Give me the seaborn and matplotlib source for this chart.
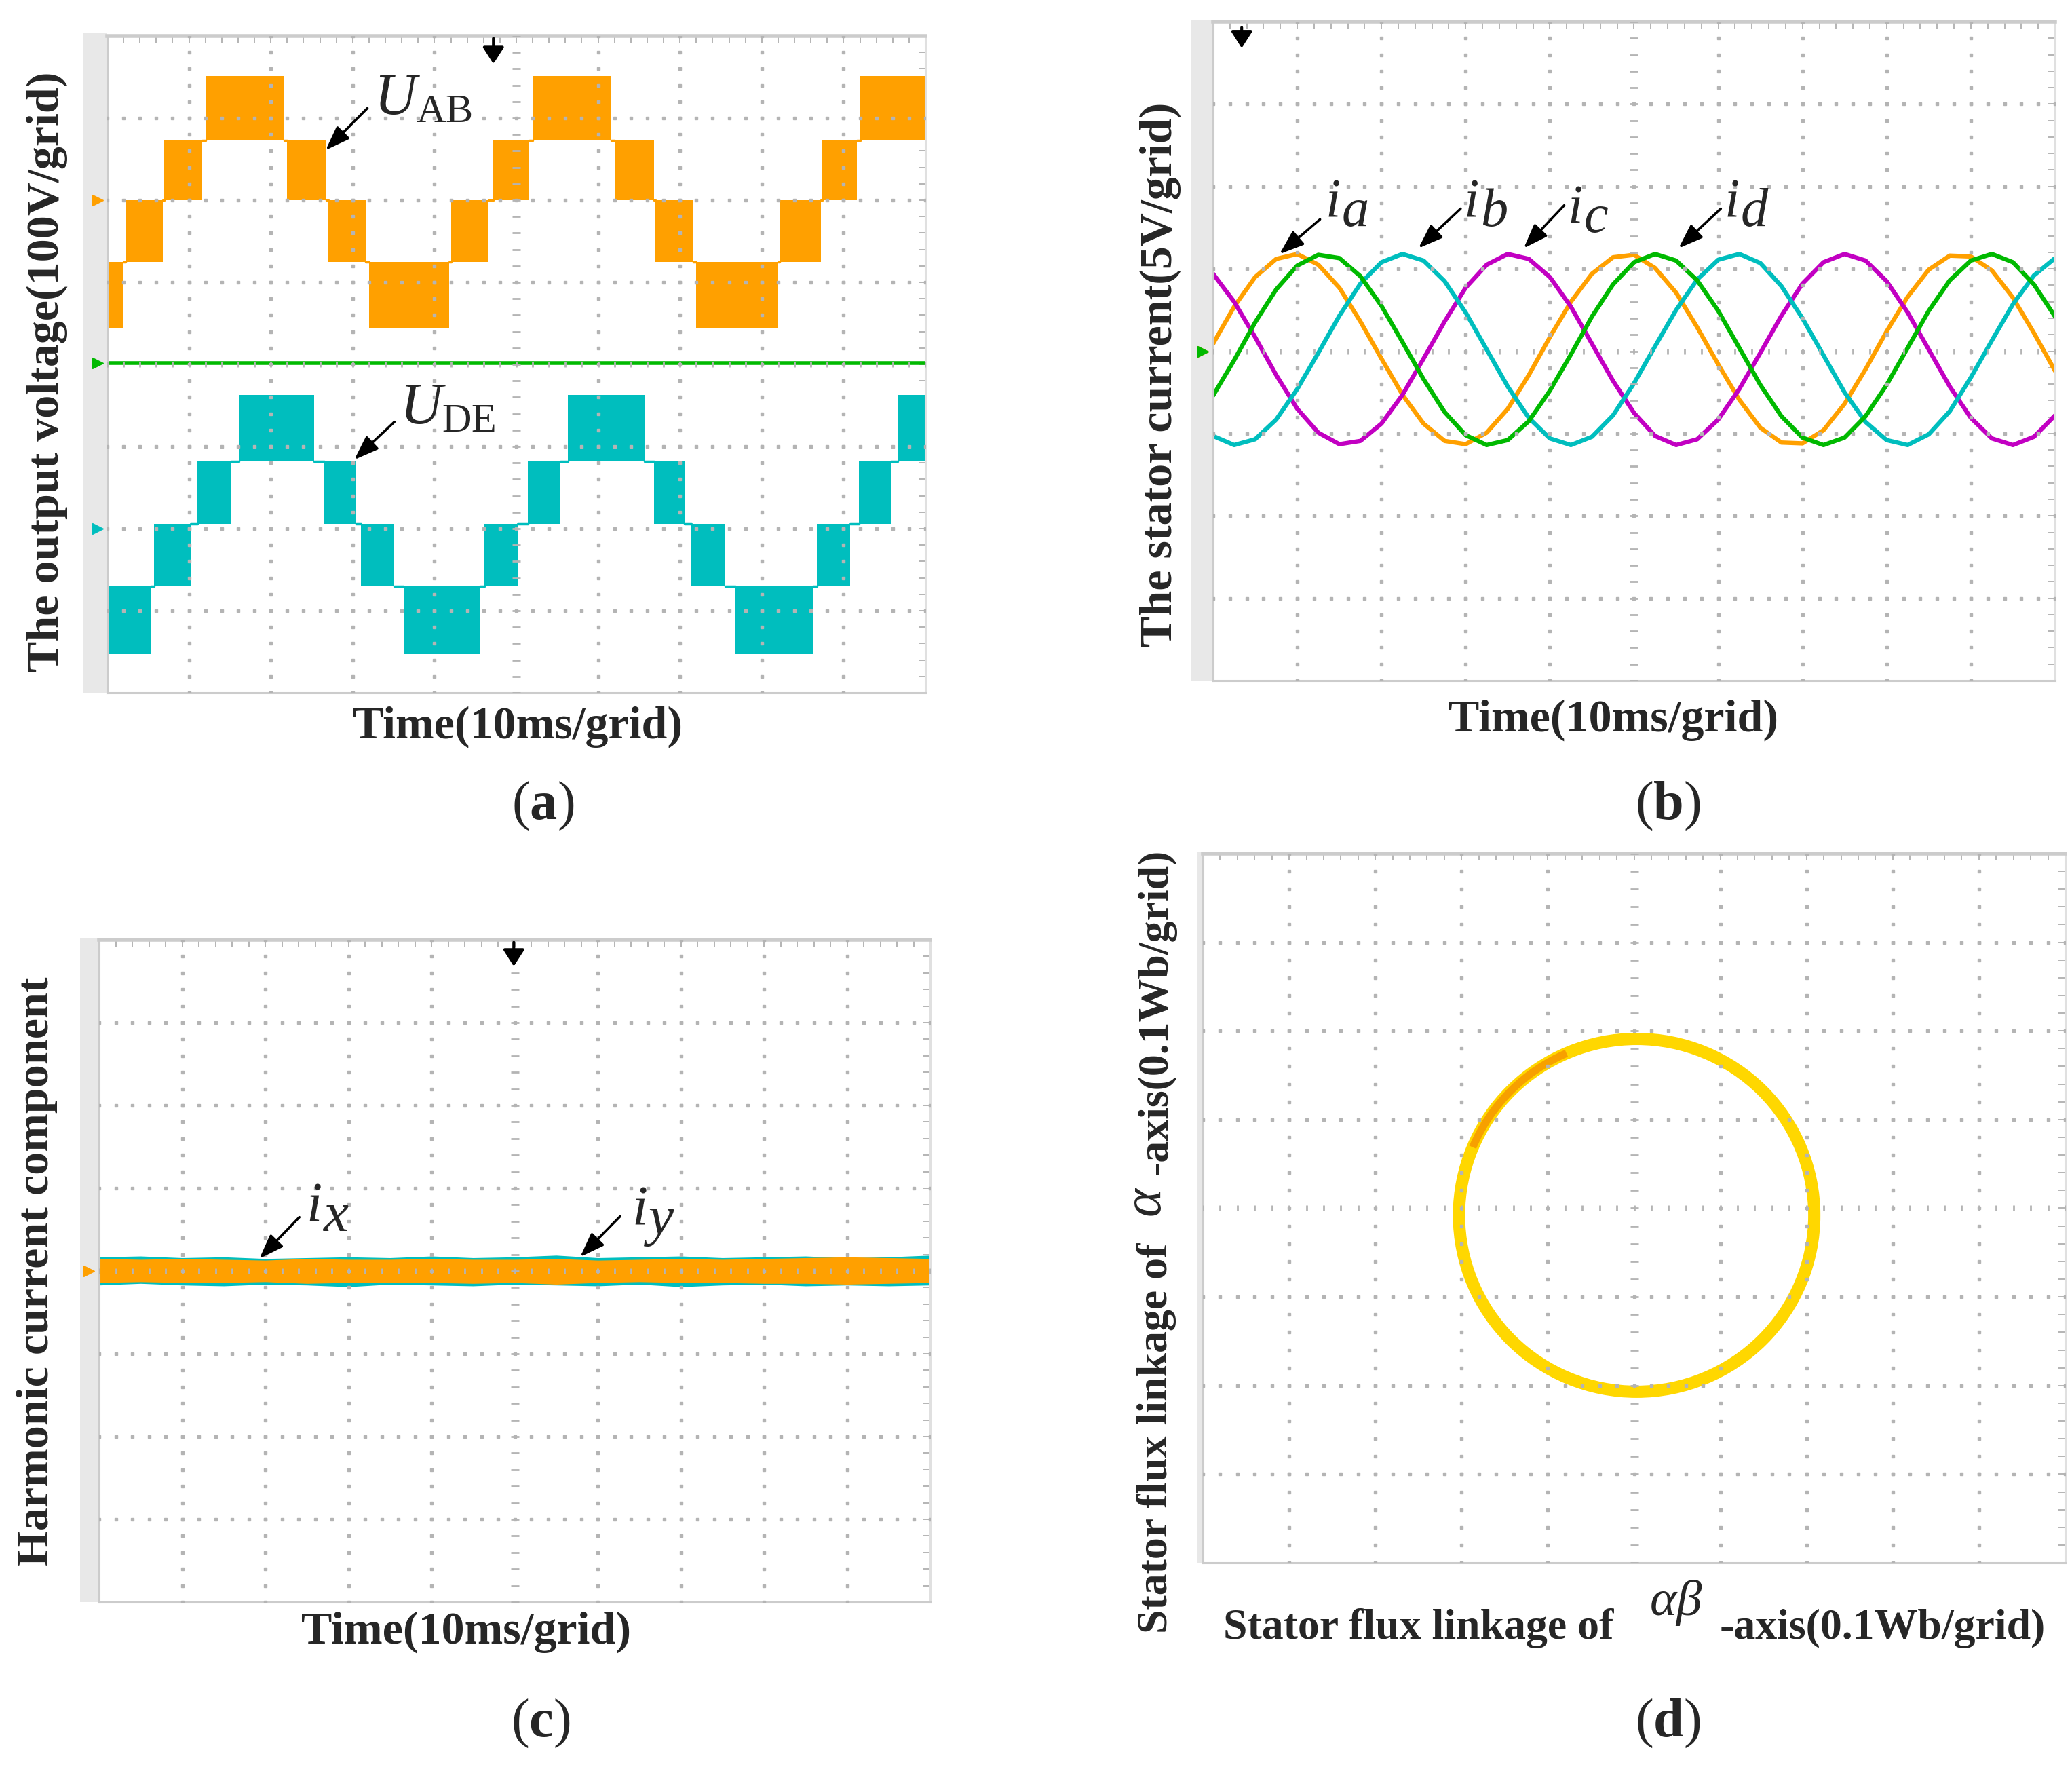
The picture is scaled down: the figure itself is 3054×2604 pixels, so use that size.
import numpy as np
import pandas as pd
import matplotlib
matplotlib.use("Agg")
import matplotlib.pyplot as plt
from matplotlib.patches import Rectangle, Ellipse, Arc
import seaborn as sns

sns.set_style("white")
plt.rcParams["font.family"] = ["Liberation Serif", "DejaVu Serif"]
plt.rcParams["mathtext.fontset"] = "custom"
plt.rcParams["mathtext.rm"] = "Liberation Serif"
plt.rcParams["mathtext.it"] = "Liberation Serif:italic"
plt.rcParams["mathtext.bf"] = "Liberation Serif:bold"

# scope channel colours
ORANGE = "#FFA000"
CYAN = "#00BEBE"
GREEN = "#00B900"
MAGENTA = "#C200C2"
YELLOW = "#FFD700"
DEEP_ORANGE = "#F7A000"
GRID = "#b4b4b4"
FRAME = "#cccccc"

# ---- (a) output voltages, PWM bands in grid divisions ----
# band k lies between level k and level k+1 (k = -2..1)
ab_start = [0.00, 0.22, 0.70, 1.20, 2.20, 2.70, 3.20, 4.20, 4.72, 5.20, 6.20, 6.70, 7.20, 8.22, 8.74, 9.20]
ab_end = [0.20, 0.68, 1.16, 2.16, 2.68, 3.16, 4.18, 4.66, 5.16, 6.16, 6.68, 7.16, 8.20, 8.72, 9.16, 10.0]
ab_band = [-2, -1, 0, 1, 0, -1, -2, -1, 0, 1, 0, -1, -2, -1, 0, 1]
ab_levels = [0.44, 1.25, 2.00, 2.73, 3.51]

de_start = [0.00, 0.57, 1.10, 1.61, 2.65, 3.10, 3.62, 4.61, 5.14, 5.63, 6.68, 7.14, 7.68, 8.67, 9.19, 9.66]
de_end = [0.53, 1.02, 1.51, 2.53, 3.04, 3.51, 4.55, 5.02, 5.54, 6.57, 7.06, 7.55, 8.62, 9.08, 9.58, 10.0]
de_band = [-2, -1, 0, 1, 0, -1, -2, -1, 0, 1, 0, -1, -2, -1, 0, 1]
de_levels = [-3.53, -2.70, -1.94, -1.18, -0.37]

green_t = [0.0, 10.0]
green_v = [0.02, 0.02]

# ---- (b) stator currents, sampled every 0.25 grid ----
t_b = np.linspace(0, 10, 41)
i_a = [0.09, 0.54, 0.90, 1.12, 1.18, 1.05, 0.77, 0.36, -0.09, -0.53, -0.88, -1.09, -1.13, -0.99,
       -0.70, -0.29, 0.17, 0.60, 0.94, 1.14, 1.17, 1.01, 0.71, 0.29, -0.16, -0.59, -0.93, -1.11,
       -1.12, -0.96, -0.64, -0.22, 0.24, 0.66, 0.99, 1.16, 1.15, 0.98, 0.65, 0.22, -0.24]
i_d = [-0.54, -0.11, 0.35, 0.75, 1.04, 1.17, 1.13, 0.91, 0.55, 0.11, -0.34, -0.74, -1.02, -1.14,
       -1.08, -0.85, -0.48, -0.04, 0.42, 0.81, 1.08, 1.18, 1.10, 0.86, 0.49, 0.04, -0.41, -0.79,
       -1.05, -1.14, -1.05, -0.79, -0.41, 0.04, 0.49, 0.86, 1.10, 1.18, 1.08, 0.81, 0.42]
i_b = [-1.03, -1.14, -1.07, -0.83, -0.46, -0.02, 0.43, 0.82, 1.08, 1.18, 1.10, 0.85, 0.47, 0.02,
       -0.43, -0.81, -1.06, -1.14, -1.04, -0.78, -0.39, 0.06, 0.50, 0.87, 1.11, 1.18, 1.07, 0.79,
       0.40, -0.05, -0.50, -0.86, -1.08, -1.14, -1.01, -0.73, -0.32, 0.13, 0.57, 0.92, 1.13]
i_c = [0.94, 0.60, 0.17, -0.29, -0.70, -0.99, -1.13, -1.09, -0.88, -0.53, -0.09, 0.36, 0.77, 1.05,
       1.18, 1.12, 0.90, 0.54, 0.09, -0.36, -0.75, -1.03, -1.14, -1.07, -0.83, -0.46, -0.02, 0.43,
       0.82, 1.08, 1.18, 1.10, 0.85, 0.47, 0.02, -0.43, -0.81, -1.06, -1.14, -1.04, -0.78]

# ---- (c) harmonic currents, envelope every 0.5 grid ----
t_c = np.linspace(0, 10, 21)
ix_hi = [0.17, 0.18, 0.16, 0.17, 0.15, 0.16, 0.17, 0.16, 0.18, 0.16, 0.17, 0.19, 0.16, 0.17, 0.18, 0.16, 0.17, 0.18, 0.16, 0.17, 0.19]
ix_lo = [-0.17, -0.15, -0.17, -0.18, -0.16, -0.17, -0.19, -0.16, -0.17, -0.18, -0.16, -0.17, -0.18, -0.16, -0.19, -0.17, -0.16, -0.18, -0.17, -0.18, -0.17]
iy_hi = [0.15, 0.14, 0.15, 0.14, 0.13, 0.15, 0.14, 0.14, 0.15, 0.14, 0.14, 0.15, 0.13, 0.14, 0.15, 0.14, 0.15, 0.16, 0.17, 0.16, 0.15]
iy_lo = [-0.14, -0.13, -0.14, -0.14, -0.13, -0.15, -0.14, -0.14, -0.14, -0.15, -0.14, -0.16, -0.14, -0.13, -0.14, -0.14, -0.15, -0.15, -0.16, -0.15, -0.14]

# ---- (d) flux circle (grid divisions) ----
flux_center = (0.03, -0.08)
flux_rx = 2.06
flux_ry = 1.99
flux_hot_arc = (114, 158)   # part of the trace drawn in deeper orange


def scope_frame(ax, x0, x1, y0, y1):
    ax.set_xlim(x0, x1)
    ax.set_ylim(y0, y1)
    xs = np.arange(x0, x1 + 0.01, 0.2)
    ys = np.arange(y0, y1 + 0.01, 0.2)
    ax.set_xticks(xs)
    ax.set_yticks(ys)
    ax.tick_params(direction="in", length=7, width=1.4, colors=GRID, top=True, right=True,
                   labelbottom=False, labelleft=False)
    for s in ax.spines.values():
        s.set_color(FRAME)
        s.set_linewidth(2.2)
    ax.spines["top"].set_linewidth(4)
    ax.spines["right"].set_color("#e0e0e0")
    xm = (x0 + x1) / 2
    ym = (y0 + y1) / 2
    for gx in np.arange(x0 + 1, x1):
        if gx != xm:
            ax.plot(np.full(len(ys), gx), ys, ls="none", marker="s", ms=2.2, color=GRID, zorder=3)
    for gy in np.arange(y0 + 1, y1):
        if gy != ym:
            ax.plot(xs, np.full(len(xs), gy), ls="none", marker="s", ms=2.2, color=GRID, zorder=3)
    ax.plot(np.full(len(ys), xm), ys, ls="none", marker="_", ms=9, mew=2, color=GRID, zorder=3)
    ax.plot(xs, np.full(len(xs), ym), ls="none", marker="|", ms=6, mew=2, color=GRID, zorder=3)


def strip(fig, x0, x1, y0, y1):
    W, H = 3054, 2604
    fig.add_artist(Rectangle((x0 / W, 1 - y1 / H), (x1 - x0) / W, (y1 - y0) / H,
                             transform=fig.transFigure, color="#e8e8e8", lw=0, zorder=0))


def arrow(ax, tail, head):
    ax.annotate("", xy=head, xytext=tail,
                arrowprops=dict(arrowstyle="-|>,head_length=0.55,head_width=0.2", mutation_scale=40,
                                lw=2.6, color="k", shrinkA=0, shrinkB=0), zorder=6)


def trigger(ax, x, y_top, y_tip):
    ax.annotate("", xy=(x, y_tip), xytext=(x, y_top),
                arrowprops=dict(arrowstyle="-|>,head_length=0.5,head_width=0.32", mutation_scale=30,
                                lw=3, color="k", shrinkA=0, shrinkB=0), zorder=6)


def cur_label(ax, x, y, sub, size):
    ax.text(x, y, "i", fontsize=size, fontstyle="italic", ha="left", va="baseline", zorder=6)
    ax.annotate(sub, xy=(x, y), xytext=(size * 0.3, -size * 0.17), textcoords="offset points",
                fontsize=size, fontstyle="italic", ha="left", va="baseline", zorder=6)


def pwm_trace(ax, start, end, band, levels, color):
    for s, e, b in zip(start, end, band):
        ax.fill_between([s, e], levels[b + 2], levels[b + 3], color=color, lw=0, zorder=2)
    for i in range(len(start) - 1):
        lv = levels[max(band[i], band[i + 1]) + 2]
        ax.plot([end[i], start[i + 1]], [lv, lv], color=color, lw=2.5, zorder=2)


fig = plt.figure(figsize=(30.54, 26.04), dpi=100)

strip(fig, 123, 158, 49, 1021)
strip(fig, 1756, 1788, 30, 1003)
strip(fig, 118, 146, 1383, 2361)
strip(fig, 1765, 1773, 1256, 2303)

# ---------------- (a) ----------------
ax_a = fig.add_axes([0.05174, 0.60791, 0.39489, 0.37174])
scope_frame(ax_a, 0, 10, -4, 4)
pwm_trace(ax_a, ab_start, ab_end, ab_band, ab_levels, ORANGE)
pwm_trace(ax_a, de_start, de_end, de_band, de_levels, CYAN)
sns.lineplot(x=green_t, y=green_v, color=GREEN, lw=4, ax=ax_a, zorder=2)
for lv, c in [(ab_levels[2], ORANGE), (green_v[0], GREEN), (de_levels[2] - 0.06, CYAN)]:
    ax_a.plot([-0.12], [lv], marker=">", ms=11, color=c, clip_on=False, zorder=5)
arrow(ax_a, (3.18, 3.12), (2.67, 2.61))
ax_a.text(3.26, 3.05, r"$U_{\mathrm{AB}}$", fontsize=62, ha="left", va="baseline", zorder=6)
arrow(ax_a, (3.51, -0.70), (3.02, -1.16))
ax_a.text(3.57, -0.72, r"$U_{\mathrm{DE}}$", fontsize=62, ha="left", va="baseline", zorder=6)
trigger(ax_a, 4.72, 3.97, 3.66)

# ---------------- (b) ----------------
ax_b = fig.add_axes([0.58546, 0.61482, 0.40635, 0.37289])
scope_frame(ax_b, 0, 10, -4, 4)
df_b = pd.DataFrame({"t": t_b, "ia": i_a, "ic": i_c, "ib": i_b, "id": i_d})
df_b = df_b.melt(id_vars="t", var_name="phase", value_name="i")
sns.lineplot(data=df_b, x="t", y="i", hue="phase", hue_order=["ia", "ic", "ib", "id"],
             palette=[ORANGE, MAGENTA, CYAN, GREEN], lw=4.6, legend=False, ax=ax_b, zorder=2)
for c in [ORANGE, GREEN]:
    ax_b.plot([-0.12], [0.0], marker=">", ms=11, color=c, clip_on=False, zorder=5)
arrow(ax_b, (1.27, 1.60), (0.79, 1.18))
cur_label(ax_b, 1.33, 1.63, "a", 58)
arrow(ax_b, (2.94, 1.73), (2.44, 1.25))
cur_label(ax_b, 2.98, 1.63, "b", 58)
arrow(ax_b, (4.17, 1.77), (3.69, 1.25))
cur_label(ax_b, 4.21, 1.56, "c", 58)
arrow(ax_b, (6.03, 1.73), (5.53, 1.25))
cur_label(ax_b, 6.07, 1.63, "d", 58)
trigger(ax_b, 0.34, 3.93, 3.68)

# ---------------- (c) ----------------
ax_c = fig.add_axes([0.04781, 0.09332, 0.40111, 0.37481])
scope_frame(ax_c, 0, 10, -4, 4)
ax_c.fill_between(t_c, ix_lo, ix_hi, color=CYAN, lw=0, zorder=2)
ax_c.fill_between(t_c, iy_lo, iy_hi, color=ORANGE, lw=0, zorder=2)
ax_c.plot([-0.12], [0.0], marker=">", ms=11, color=ORANGE, clip_on=False, zorder=5)
arrow(ax_c, (2.41, 0.65), (1.93, 0.15))
cur_label(ax_c, 2.49, 0.60, "x", 60)
arrow(ax_c, (6.27, 0.66), (5.79, 0.17))
cur_label(ax_c, 6.41, 0.56, "y", 60)
trigger(ax_c, 4.99, 3.97, 3.68)

# ---------------- (d) ----------------
ax_d = fig.add_axes([0.58055, 0.11559, 0.41618, 0.40131])
scope_frame(ax_d, -5, 5, -4, 4)
ax_d.add_patch(Ellipse(flux_center, 2 * flux_rx, 2 * flux_ry, fill=False, ec=YELLOW, lw=13, zorder=2))
ax_d.add_patch(Arc(flux_center, 2 * flux_rx, 2 * flux_ry, theta1=flux_hot_arc[0], theta2=flux_hot_arc[1],
                   ec=DEEP_ORANGE, lw=8, zorder=2))

# ---------------- labels ----------------
lab = dict(fontsize=49, fontweight="bold")
lab_d = dict(fontsize=46, fontweight="bold")
fig.text(0.0226, 0.7896, "The output voltage(100V/grid)", rotation=90, ha="center", va="center", **lab)
fig.text(0.2498, 0.5887, "Time(10ms/grid)", ha="center", va="center", **lab)
fig.text(0.262, 0.5438, r"$\mathrm{(}\mathbf{a}\mathrm{)}$", fontsize=58, ha="center", va="center")

fig.text(0.560, 0.788, "The stator current(5V/grid)", rotation=90, ha="center", va="center", **lab)
fig.text(0.7787, 0.5925, "Time(10ms/grid)", ha="center", va="center", **lab)
fig.text(0.8049, 0.5438, r"$\mathrm{(}\mathbf{b}\mathrm{)}$", fontsize=58, ha="center", va="center")

fig.text(0.018, 0.2803, "Harmonic current component", rotation=90, ha="center", va="center", **lab)
fig.text(0.225, 0.0764, "Time(10ms/grid)", ha="center", va="center", **lab)
fig.text(0.261, 0.0246, r"$\mathrm{(}\mathbf{c}\mathrm{)}$", fontsize=58, ha="center", va="center")

fig.text(0.558, 0.0757, "Stator flux linkage of", rotation=90, ha="center", va="bottom", **lab_d)
fig.text(0.554, 0.3199, r"$\alpha$", rotation=90, fontsize=58, ha="center", va="center")
fig.text(0.558, 0.5196, "-axis(0.1Wb/grid)", rotation=90, ha="center", va="top", **lab_d)
fig.text(0.5904, 0.0726, "Stator flux linkage of", ha="left", va="baseline", **lab_d)
fig.text(0.8088, 0.0860, r"$\alpha\beta$", fontsize=54, ha="center", va="baseline")
fig.text(0.9872, 0.0726, "-axis(0.1Wb/grid)", ha="right", va="baseline", **lab_d)
fig.text(0.8049, 0.0246, r"$\mathrm{(}\mathbf{d}\mathrm{)}$", fontsize=58, ha="center", va="center")

fig.savefig("out.png", dpi=100)
